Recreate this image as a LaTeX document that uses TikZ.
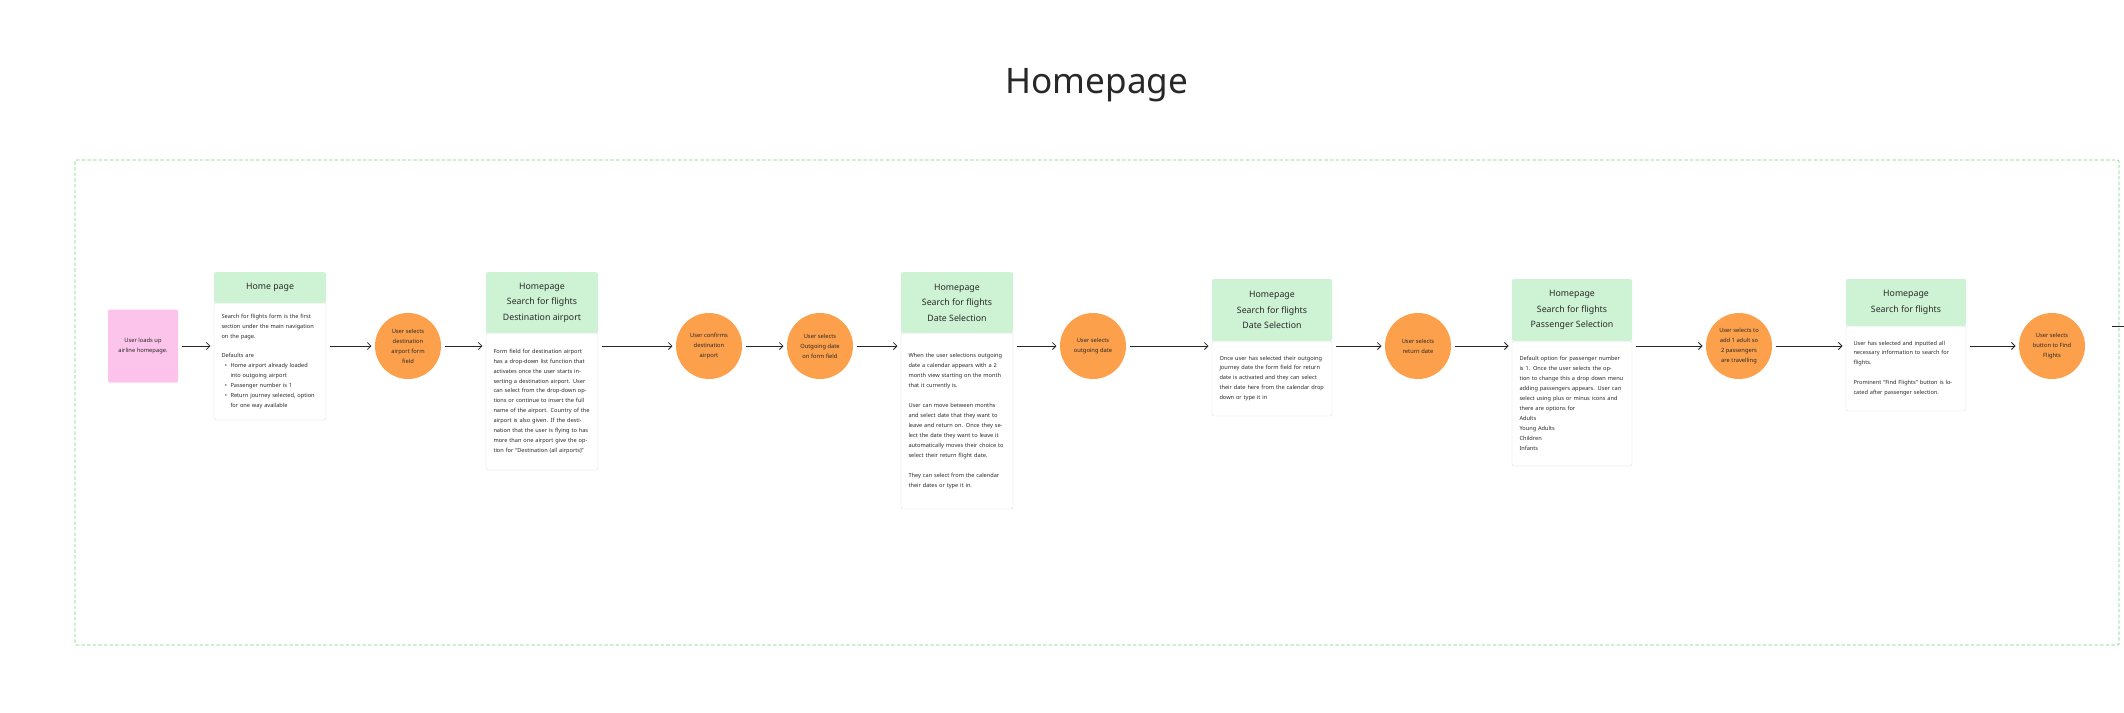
\documentclass[tikz,border=0pt]{standalone}
\usepackage{fontspec}
\setmainfont{Noto Sans}
\usepackage{enumitem}
\usetikzlibrary{positioning,arrows.meta}
\definecolor{hdrgreen}{RGB}{206,242,212}
\definecolor{stepor}{RGB}{253,160,75}
\definecolor{startpink}{RGB}{252,196,234}
\definecolor{framegreen}{RGB}{110,214,122}
\definecolor{txt}{RGB}{40,40,40}
\begin{document}
\begin{tikzpicture}[x=0.05cm,y=-0.05cm,every node/.style={outer sep=0pt,text=txt},
 hdr/.style={fill=hdrgreen,minimum width=5.6cm,align=center,font=\fontsize{12.5}{22}\selectfont,anchor=north,rounded corners=3pt},
 body/.style={draw=black!15,fill=white,rounded corners=3pt,text width=4.85cm,inner xsep=0.375cm,inner ysep=0.3cm,align=left,anchor=north,font=\fontsize{8}{14.2}\selectfont},
 wide/.style={minimum width=6cm,text width=5.25cm},
 action/.style={circle,fill=stepor,minimum size=3.3cm,inner sep=1pt,align=center,font=\fontsize{8.2}{14.2}\selectfont},
 flow/.style={-{Straight Barb[length=5pt,width=10pt]},line width=1.1pt,black!85,shorten <=5pt,shorten >=5pt}]
 \useasboundingbox (0,0) rectangle (2124,712);

 \node[font=\fontsize{50}{56}\selectfont] (title) at (1097,85) {Homepage};
 \draw[framegreen,line width=1.2pt,dash pattern=on 5pt off 3pt,rounded corners=2pt] (75,160) rectangle (2119,645);

 \node[fill=startpink,minimum width=3.5cm,minimum height=3.65cm,rounded corners=2pt,align=center,font=\fontsize{8.2}{14.2}\selectfont] (start) at (143,346) {User loads up\\airline homepage.};

 % home page
 \node[body,minimum height=5.85cm] (b1) at (270,303) {Search for flights form is the first section under the main navigation on the page.\\[14.2pt]
  Defaults are
  \begin{itemize}[nosep,leftmargin=0.45cm,label=\textbullet]
  \item Home airport already loaded into outgoing airport
  \item Passenger number is 1
  \item Return journey selected, option for one way available
  \end{itemize}};
 \node[hdr,minimum height=1.55cm] (h1) at (270,272) {Home page};

 \node[action] (s1) at (408,346) {User selects\\destination\\airport form\\field};

 % destination airport
 \node[body,minimum height=6.85cm] (b2) at (542,333) {Form field for destination airport has a drop-down list function that activates once the user starts inserting a destination airport. User can select from the drop-down options or continue to insert the full name of the airport. Country of the airport is also given. If the destination that the user is flying to has more than one airport give the option for ``Destination (all airports)''};
 \node[hdr,minimum height=3.05cm] (h2) at (542,272) {Homepage\\Search for flights\\Destination airport};

 \node[action] (s2) at (709,346) {User confirms\\destination\\airport};
 \node[action] (s3) at (820,346) {User selects\\Outgoing date\\on form field};

 % date selection
 \node[body,minimum height=8.8cm] (b3) at (957,333) {When the user selections outgoing date a calendar appears with a 2 month view starting on the month that it currently is.\\[14.2pt]
  User can move between months and select date that they want to leave and return on. Once they select the date they want to leave it automatically moves their choice to select their return flight date.\\[14.2pt]
  They can select from the calendar their dates or type it in.};
 \node[hdr,minimum height=3.05cm] (h3) at (957,272) {Homepage\\Search for flights\\Date Selection};

 \node[action] (s4) at (1093,346) {User selects\\outgoing date};

 % return date
 \node[body,wide,minimum height=3.75cm] (b4) at (1272,341) {Once user has selected their outgoing journey date the form field for return date is activated and they can select their date here from the calendar drop down or type it in};
 \node[hdr,minimum width=6cm,minimum height=3.1cm] (h4) at (1272,279) {Homepage\\Search for flights\\Date Selection};

 \node[action] (s5) at (1418,346) {User selects\\return date};

 % passengers
 \node[body,wide,minimum height=6.25cm] (b5) at (1572,341) {Default option for passenger number is 1. Once the user selects the option to change this a drop down menu adding passengers appears. User can select using plus or minus icons and there are options for\\Adults\\Young Adults\\Children\\Infants};
 \node[hdr,minimum width=6cm,minimum height=3.1cm] (h5) at (1572,279) {Homepage\\Search for flights\\Passenger Selection};

 \node[action] (s6) at (1739,346) {User selects to\\add 1 adult so\\2 passengers\\are travelling};

 % find flights
 \node[body,wide,minimum height=4.25cm] (b6) at (1906,326) {User has selected and inputted all necessary information to search for flights.\\[14.2pt]
  Prominent ``Find Flights'' button is located after passenger selection.};
 \node[hdr,minimum width=6cm,minimum height=2.35cm] (h6) at (1906,279) {Homepage\\Search for flights};

 \node[action] (s7) at (2052,346) {User selects\\button to Find\\Flights};
 \coordinate (out) at (2124,326);
 \coordinate (outl) at (2112,326);

 \draw[flow] (start) -- (b1.west|-start);
 \draw[flow] (b1.east|-start) -- (s1);
 \draw[flow] (s1) -- (b2.west|-s1);
 \draw[flow] (b2.east|-s1) -- (s2);
 \draw[flow] (s2) -- (s3);
 \draw[flow] (s3) -- (b3.west|-s3);
 \draw[flow] (b3.east|-s3) -- (s4);
 \draw[flow] (s4) -- (b4.west|-s4);
 \draw[flow] (b4.east|-s4) -- (s5);
 \draw[flow] (s5) -- (b5.west|-s5);
 \draw[flow] (b5.east|-s5) -- (s6);
 \draw[flow] (s6) -- (b6.west|-s6);
 \draw[flow] (b6.east|-s6) -- (s7);
 \draw[line width=1.1pt,black!85] (outl) -- (out);
\end{tikzpicture}
\end{document}
